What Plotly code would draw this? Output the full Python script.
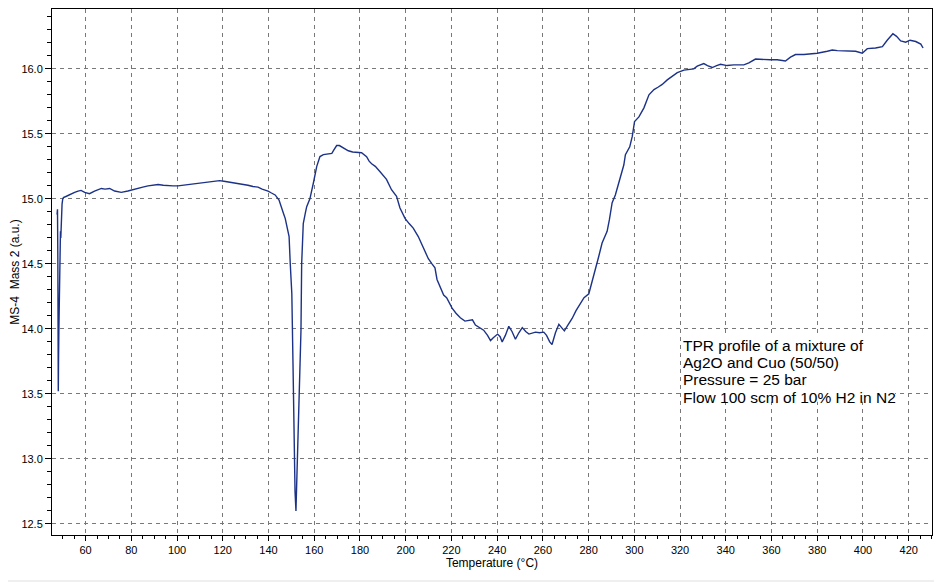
import plotly.graph_objects as go

# Temperature (°C)
temperature = [
    47.5, 47.7, 47.85, 47.95, 48.05, 48.15, 48.3, 48.45, 48.6, 48.75, 48.9, 49.0, 49.15, 49.3, 49.5, 49.7, 50.0, 50.3,
    51.6, 53.7, 55.2, 56.7, 58.0, 59.6, 61.7, 63.9, 66.9, 68.5, 70.5, 72.7, 75.6, 78.5, 80.5, 82.9, 85.0, 87.3,
    89.5, 91.7, 94.0, 96.0, 98.2, 100.4, 102.6, 104.8, 107.0, 109.1, 111.3, 113.5, 116.0, 118.6, 120.5, 122.3,
    124.5, 126.6, 128.8, 131.0, 133.2, 135.4, 137.2, 139.8, 141.3, 142.9, 144.6, 145.6, 146.1, 146.7, 147.3,
    148.0, 148.5, 149.0, 149.5, 150.2, 150.7, 151.1, 151.6, 152.0, 152.6, 153.4, 154.2, 154.5, 155.2, 156.1,
    156.7, 158.1, 158.8, 159.6, 161.1, 162.5, 164.0, 166.2, 167.7, 168.4, 169.8, 171.0, 172.0, 173.5, 174.9,
    176.8, 178.6, 180.7, 182.9, 184.0, 185.1, 186.7, 188.7, 190.2, 191.6, 193.8, 196.0, 197.5, 199.7, 201.5,
    203.3, 205.5, 207.7, 209.9, 211.5, 212.8, 213.7, 215.0, 216.6, 217.9, 220.3, 222.0, 223.9, 225.9, 228.3,
    229.2, 230.5, 232.3, 234.1, 235.8, 237.1, 238.2, 240.2, 241.3, 242.2, 243.6, 245.1, 246.5, 248.0, 249.5,
    251.0, 252.5, 253.9, 256.8, 258.5, 260.4, 261.6, 263.0, 264.0, 265.5, 267.0, 268.2, 269.4, 271.0, 272.8,
    274.5, 276.4, 278.0, 280.1, 282.2, 284.4, 285.9, 288.1, 289.1, 290.3, 291.7, 293.2, 295.4, 296.1, 298.0,
    299.1, 300.1, 302.0, 304.2, 306.4, 308.6, 310.5, 312.2, 314.4, 316.6, 318.8, 321.7, 324.5, 326.0, 327.5,
    330.4, 332.0, 334.1, 336.0, 337.7, 340.6, 343.5, 347.9, 350.1, 353.0, 356.7, 359.5, 362.5, 366.1, 368.3,
    370.5, 374.2, 377.1, 380.0, 384.4, 386.6, 388.8, 393.1, 396.8, 399.7, 401.9, 405.5, 408.5, 410.6, 413.1,
    414.7, 416.5, 418.7, 420.6, 423.1, 425.3, 426.3,
]

# MS-4 Mass 2 signal (a.u.)
signal = [
    14.88, 14.92, 14.55, 14.0, 13.52, 13.75, 13.98, 14.2, 14.35, 14.5, 14.62, 14.75, 14.7, 14.85, 14.92, 14.96, 15.0, 15.01,
    15.02, 15.04, 15.05, 15.06, 15.065, 15.05, 15.04, 15.06, 15.08, 15.075, 15.08, 15.06, 15.05, 15.06, 15.07, 15.085, 15.09, 15.10,
    15.105, 15.11, 15.105, 15.10, 15.10, 15.10, 15.105, 15.11, 15.11, 15.115, 15.12, 15.125, 15.13, 15.14, 15.135, 15.13,
    15.125, 15.12, 15.11, 15.105, 15.095, 15.09, 15.075, 15.06, 15.045, 15.03, 14.99, 14.93, 14.91, 14.88, 14.85,
    14.79, 14.75, 14.71, 14.505, 14.27, 13.74, 13.07, 12.75, 12.6, 12.97, 13.48, 13.99, 14.5, 14.81, 14.89,
    14.94, 15.0, 15.05, 15.12, 15.25, 15.325, 15.34, 15.345, 15.35, 15.37, 15.41, 15.41, 15.40, 15.385, 15.37,
    15.36, 15.36, 15.355, 15.325, 15.29, 15.27, 15.25, 15.21, 15.18, 15.15, 15.07, 15.02, 14.93, 14.85, 14.81,
    14.775, 14.71, 14.63, 14.54, 14.5, 14.47, 14.38, 14.33, 14.26, 14.24, 14.16, 14.12, 14.085, 14.06, 14.065,
    14.07, 14.03, 14.01, 13.99, 13.95, 13.91, 13.93, 13.96, 13.94, 13.90, 13.95, 14.02, 13.98, 13.92, 13.97,
    14.01, 13.98, 13.96, 13.975, 13.97, 13.975, 13.95, 13.90, 13.88, 13.97, 14.035, 14.01, 13.985, 14.03, 14.08,
    14.14, 14.2, 14.24, 14.27, 14.4, 14.555, 14.66, 14.75, 14.84, 14.97, 15.03, 15.12, 15.26, 15.34, 15.40,
    15.48, 15.595, 15.63, 15.70, 15.80, 15.84, 15.86, 15.88, 15.915, 15.945, 15.97, 15.99, 16.0, 16.0, 16.02,
    16.04, 16.025, 16.01, 16.025, 16.035, 16.025, 16.03, 16.03, 16.045, 16.075, 16.07, 16.07, 16.07, 16.06, 16.09,
    16.11, 16.11, 16.115, 16.12, 16.135, 16.145, 16.14, 16.14, 16.135, 16.12, 16.155, 16.16, 16.17, 16.22, 16.27,
    16.25, 16.215, 16.205, 16.22, 16.21, 16.19, 16.16,
]

note_lines = [
    "TPR profile of a mixture of",
    "Ag2O and Cuo (50/50)",
    "Pressure = 25 bar",
    "Flow 100 scm of 10% H2 in N2",
]

x_title = "Temperature (°C)"
y_title = "MS-4  Mass 2 (a.u.)"

FONT = "Liberation Sans, Arial, sans-serif"
LINE_COLOR = "rgb(28,50,135)"
GRID_COLOR = "rgb(120,120,120)"

fig = go.Figure()
fig.add_trace(go.Scatter(
    x=temperature, y=signal, mode="lines",
    line=dict(color=LINE_COLOR, width=1.4),
    showlegend=False, hoverinfo="x+y",
))

axis_common = dict(
    showline=True, linecolor="black", linewidth=1, mirror=True,
    showgrid=True, gridcolor=GRID_COLOR, gridwidth=1, griddash="4px,4px",
    zeroline=False, ticks="outside", tickcolor="black",
    tickfont=dict(family=FONT, size=11, color="black"),
    automargin=False,
)

fig.update_xaxes(
    **axis_common,
    range=[45.3, 430.2], tick0=0, dtick=20, ticklen=5,
    minor=dict(dtick=5, tick0=0, ticks="outside", ticklen=3, tickcolor="black", showgrid=False),
    title=dict(text=x_title, font=dict(family=FONT, size=12, color="black"), standoff=2),
)
fig.update_yaxes(
    **axis_common,
    range=[12.415, 16.46], tick0=0, dtick=0.5, tickformat=".1f", ticklen=6,
    minor=dict(dtick=0.1, tick0=0, ticks="outside", ticklen=4, tickcolor="black", showgrid=False),
    title=dict(text=y_title, font=dict(family=FONT, size=12, color="black"), standoff=5),
)

# white box behind the note text (covers the grid lines)
fig.add_shape(type="rect", xref="x", yref="y", x0=320.6, x1=414.0, y0=13.44, y1=13.96,
              fillcolor="white", line=dict(width=0), layer="between")

line_h = 17.3
for i, t in enumerate(note_lines):
    fig.add_annotation(
        x=320.2, y=13.955, xref="x", yref="y", xanchor="left", yanchor="top",
        text=t, showarrow=False, align="left", yshift=-i * line_h,
        font=dict(family=FONT, size=15.5, color="black"),
    )

# thin light-grey strip at the very bottom of the window
fig.add_shape(type="rect", xref="paper", yref="paper", x0=-0.07, x1=1.03, y0=-0.1, y1=-0.0855,
              fillcolor="#efefef", line=dict(width=0), layer="below")

# the page body adds an 8 px offset; margins compensate so the plot area
# lands at the same window position as the reference
fig.update_layout(
    width=942, height=582,
    margin=dict(l=44, r=18, t=1, b=55),
    paper_bgcolor="white", plot_bgcolor="white",
    font=dict(family=FONT, color="black"),
)

fig.write_html("out.html")
